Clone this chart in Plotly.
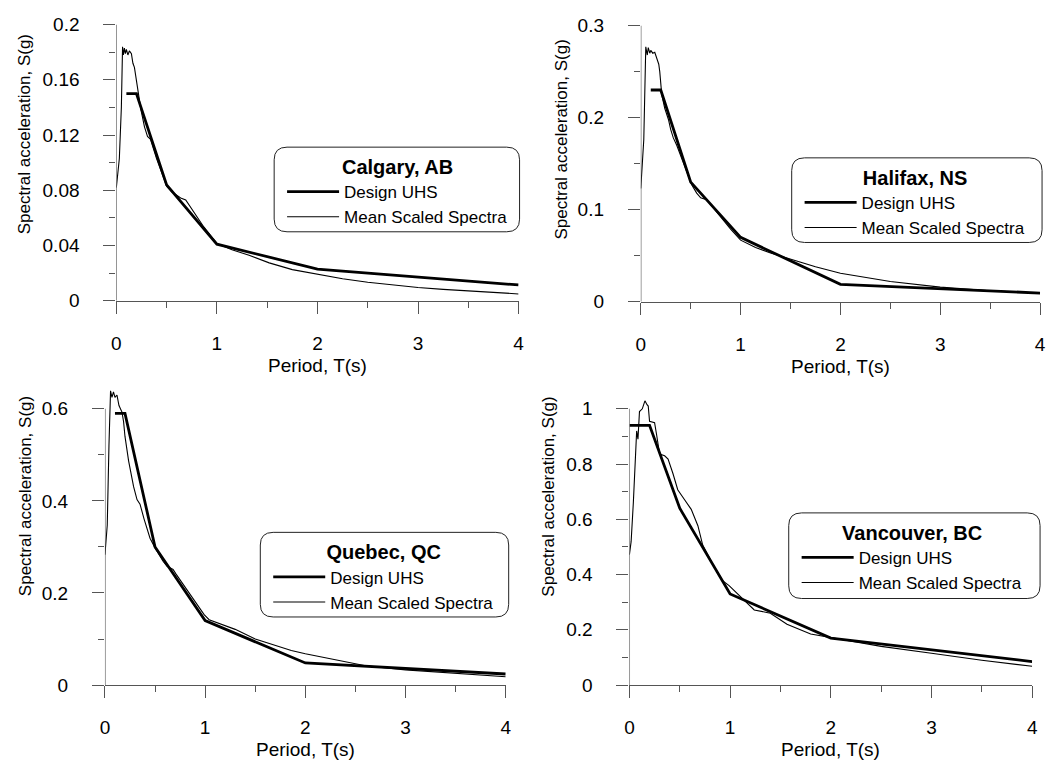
import plotly.graph_objects as go

W, H = 1053, 770

# ---------------- data ----------------
cities = ["Calgary, AB", "Halifax, NS", "Quebec, QC", "Vancouver, BC"]

uhs_T_calgary = [0.1, 0.2, 0.5, 1.0, 2.0, 4.0]
uhs_S_calgary = [0.15, 0.15, 0.084, 0.041, 0.023, 0.0115]
uhs_T_halifax = [0.1, 0.2, 0.5, 1.0, 2.0, 4.0]
uhs_S_halifax = [0.23, 0.23, 0.13, 0.070, 0.019, 0.0095]
uhs_T_quebec = [0.1, 0.2, 0.5, 1.0, 2.0, 4.0]
uhs_S_quebec = [0.59, 0.59, 0.30, 0.14, 0.048, 0.024]
uhs_T_vancouver = [0.0, 0.2, 0.5, 1.0, 2.0, 4.0]
uhs_S_vancouver = [0.94, 0.94, 0.64, 0.33, 0.17, 0.085]

mean_T_calgary = [0, 0.03, 0.05, 0.062, 0.07, 0.08, 0.09, 0.1, 0.115, 0.13, 0.15, 0.165, 0.18,
                  0.195, 0.21, 0.243, 0.28, 0.31, 0.34, 0.4, 0.47, 0.5, 0.55, 0.64, 0.69, 0.77,
                  0.87, 1.0, 1.15, 1.32, 1.52, 1.75, 2.0, 2.25, 2.5, 2.75, 3.0, 3.25, 3.5, 3.75, 4.0]
mean_S_calgary = [0.082, 0.103, 0.14, 0.184, 0.178, 0.183, 0.179, 0.182, 0.178, 0.181, 0.179, 0.172, 0.169,
                  0.162, 0.152, 0.139, 0.126, 0.119, 0.117, 0.103, 0.089, 0.083, 0.079, 0.0745, 0.073, 0.064,
                  0.0535, 0.0415, 0.037, 0.033, 0.0275, 0.0226, 0.0195, 0.016, 0.0135, 0.0115, 0.0097,
                  0.0083, 0.0071, 0.006, 0.005]

mean_T_halifax = [0, 0.03, 0.05, 0.065, 0.075, 0.09, 0.1, 0.12, 0.14, 0.16, 0.18, 0.19, 0.21, 0.24,
                  0.277, 0.3, 0.326, 0.36, 0.41, 0.47, 0.51, 0.56, 0.6, 0.66, 0.8, 0.9, 1.0, 1.15,
                  1.3, 1.5, 1.75, 2.0, 2.5, 3.0, 3.5, 4.0]
mean_S_halifax = [0.123, 0.176, 0.277, 0.268, 0.276, 0.27, 0.273, 0.27, 0.271, 0.265, 0.258, 0.25, 0.225, 0.21,
                  0.198, 0.187, 0.178, 0.17, 0.155, 0.137, 0.127, 0.118, 0.113, 0.111, 0.092, 0.079, 0.067, 0.059,
                  0.053, 0.046, 0.038, 0.031, 0.022, 0.016, 0.012, 0.0095]

mean_T_quebec = [0, 0.023, 0.04, 0.056, 0.07, 0.085, 0.1, 0.12, 0.14, 0.17, 0.186, 0.2, 0.236, 0.286,
                 0.32, 0.35, 0.39, 0.45, 0.5, 0.58, 0.62, 0.68, 0.71, 0.84, 0.99, 1.04, 1.3, 1.5,
                 1.86, 2.0, 2.3, 2.6, 3.0, 3.5, 4.0]
mean_S_quebec = [0.283, 0.347, 0.52, 0.639, 0.625, 0.637, 0.625, 0.63, 0.607, 0.593, 0.572, 0.54, 0.487, 0.431,
                 0.403, 0.393, 0.361, 0.319, 0.298, 0.269, 0.258, 0.251, 0.241, 0.199, 0.153, 0.142, 0.121, 0.1,
                 0.075, 0.068, 0.055, 0.042, 0.033, 0.025, 0.018]

mean_T_vancouver = [0, 0.017, 0.039, 0.072, 0.085, 0.1, 0.128, 0.154, 0.175, 0.187, 0.2, 0.25, 0.27, 0.3,
                    0.35, 0.384, 0.433, 0.48, 0.548, 0.614, 0.68, 0.728, 0.827, 0.925, 0.99, 1.07, 1.17,
                    1.24, 1.4, 1.565, 1.8, 2.0, 2.5, 3.0, 3.5, 4.0]
mean_S_vancouver = [0.472, 0.519, 0.66, 0.92, 0.89, 0.99, 1.0, 1.029, 1.015, 1.01, 0.955, 0.95, 0.906, 0.836,
                    0.83, 0.818, 0.765, 0.707, 0.671, 0.636, 0.577, 0.507, 0.437, 0.378, 0.36, 0.331, 0.296,
                    0.272, 0.26, 0.22, 0.185, 0.172, 0.14, 0.115, 0.09, 0.068]

x_ticks = [0, 1, 2, 3, 4]

# ---------------- layout helpers ----------------
FONT = "Arial, Liberation Sans, sans-serif"
AXC = "#555555"

panels = [
    dict(uT=uhs_T_calgary, uS=uhs_S_calgary, mT=mean_T_calgary, mS=mean_S_calgary,
         xpx=(112.5, 519), ybot=299, ylabtop=15, ytop=0.2, yrng=0.2, dt=0.04,
         box=(272, 141, 520, 228), ytitle=(20, 128)),
    dict(uT=uhs_T_halifax, uS=uhs_S_halifax, mT=mean_T_halifax, mS=mean_S_halifax,
         xpx=(642.5, 1046), ybot=300, ylabtop=16, ytop=0.3, yrng=0.3, dt=0.1,
         box=(795, 152, 1048, 239), ytitle=(562, 133)),
    dict(uT=uhs_T_quebec, uS=uhs_S_quebec, mT=mean_T_quebec, mS=mean_S_quebec,
         xpx=(101, 506), ybot=694, ylabtop=410, ytop=0.6, yrng=0.66, dt=0.2,
         box=(258, 537, 509, 624), ytitle=(21, 500)),
    dict(uT=uhs_T_vancouver, uS=uhs_S_vancouver, mT=mean_T_vancouver, mS=mean_S_vancouver,
         xpx=(631, 1038), ybot=694, ylabtop=410, ytop=1.0, yrng=1.06, dt=0.2,
         box=(792, 517, 1046, 605), ytitle=(549, 500)),
]

fig = go.Figure()
shapes = []
annotations = []


def X(v):
    return v / W


def Y(v):
    return 1 - v / H


for i, (city, p) in enumerate(zip(cities, panels), start=1):
    sfx = "" if i == 1 else str(i)
    xa, ya = "x" + sfx, "y" + sfx
    lg = "legend" + sfx

    fig.add_trace(go.Scatter(x=p["uT"], y=p["uS"], mode="lines", name="Design UHS",
                             line=dict(color="black", width=2.8), xaxis=xa, yaxis=ya,
                             legend=lg, legendgroup=f"u{i}"))
    fig.add_trace(go.Scatter(x=p["mT"], y=p["mS"], mode="lines", name="Mean Scaled Spectra",
                             line=dict(color="black", width=1.1), xaxis=xa, yaxis=ya,
                             legend=lg, legendgroup=f"m{i}"))

    pxh = p["ybot"] - p["ylabtop"]
    top_px = p["ybot"] - pxh * p["yrng"] / p["ytop"]
    xdom = [p["xpx"][0] / W, p["xpx"][1] / W]
    ydom = [1 - p["ybot"] / H, 1 - top_px / H]

    fig.layout["xaxis" + sfx] = dict(
        domain=xdom, anchor=ya, range=[0, 4], tickvals=x_ticks,
        showline=True, linecolor=AXC, linewidth=1.2, showgrid=False, zeroline=False,
        ticks="outside", ticklen=12, tickcolor=AXC, tickwidth=1.2,
        minor=dict(dtick=0.5, ticks="outside", ticklen=6, tickcolor=AXC, tickwidth=1.2, showgrid=False),
        tickfont=dict(family=FONT, size=19, color="black"), ticklabelstandoff=13,
    )
    fig.layout["yaxis" + sfx] = dict(
        domain=ydom, anchor=xa, range=[0, p["yrng"]], dtick=p["dt"], tick0=0,
        showline=False, showgrid=False, zeroline=False,
        ticks="outside", ticklen=12, tickcolor=AXC, tickwidth=1.2,
        minor=dict(dtick=p["dt"] / 2, ticks="outside", ticklen=6, tickcolor=AXC, tickwidth=1.2, showgrid=False),
        tickfont=dict(family=FONT, size=19, color="black"), ticklabelstandoff=20,
    )
    shapes.append(dict(type="line", xref=xa, yref=ya, x0=0, x1=0, y0=0, y1=p["ytop"],
                       line=dict(color=AXC, width=1.2), layer="above"))

    annotations.append(dict(text="Spectral acceleration, S(g)", textangle=-90, xref="paper", yref="paper",
                            x=X(p["ytitle"][0]), y=Y(p["ytitle"][1]), xanchor="center", yanchor="middle",
                            showarrow=False, font=dict(family=FONT, size=17, color="black")))
    annotations.append(dict(text="Period, T(s)", xref="paper", yref="paper",
                            x=X((p["xpx"][0] + p["xpx"][1]) / 2), y=Y(p["ybot"] + 66),
                            xanchor="center", yanchor="middle",
                            showarrow=False, font=dict(family=FONT, size=19, color="black")))

    l, t, r, b = p["box"]
    rad = 13
    path = (f"M{X(l+rad)},{Y(t)} L{X(r-rad)},{Y(t)} Q{X(r)},{Y(t)} {X(r)},{Y(t+rad)} "
            f"L{X(r)},{Y(b-rad)} Q{X(r)},{Y(b)} {X(r-rad)},{Y(b)} "
            f"L{X(l+rad)},{Y(b)} Q{X(l)},{Y(b)} {X(l)},{Y(b-rad)} "
            f"L{X(l)},{Y(t+rad)} Q{X(l)},{Y(t)} {X(l+rad)},{Y(t)} Z")
    shapes.append(dict(type="path", xref="paper", yref="paper", path=path,
                       line=dict(color="#222222", width=1), fillcolor="white", layer="below"))

    fig.layout[lg] = dict(
        x=X(l + 8), y=Y(t + 1), xanchor="left", yanchor="top",
        bgcolor="rgba(0,0,0,0)", borderwidth=0,
        title=dict(text=f"<b>{city}</b>", side="top center", font=dict(family=FONT, size=20, color="black")),
        font=dict(family=FONT, size=17, color="black"),
        traceorder="grouped", tracegroupgap=0, itemwidth=52,
    )

fig.update_layout(
    width=W, height=H, margin=dict(l=0, r=0, t=0, b=0),
    paper_bgcolor="white", plot_bgcolor="white",
    shapes=shapes, annotations=annotations, showlegend=True,
    font=dict(family=FONT, color="black"),
)

fig.write_html("out.html", config={"displayModeBar": False},
               post_script="document.body.style.margin='0px';")
